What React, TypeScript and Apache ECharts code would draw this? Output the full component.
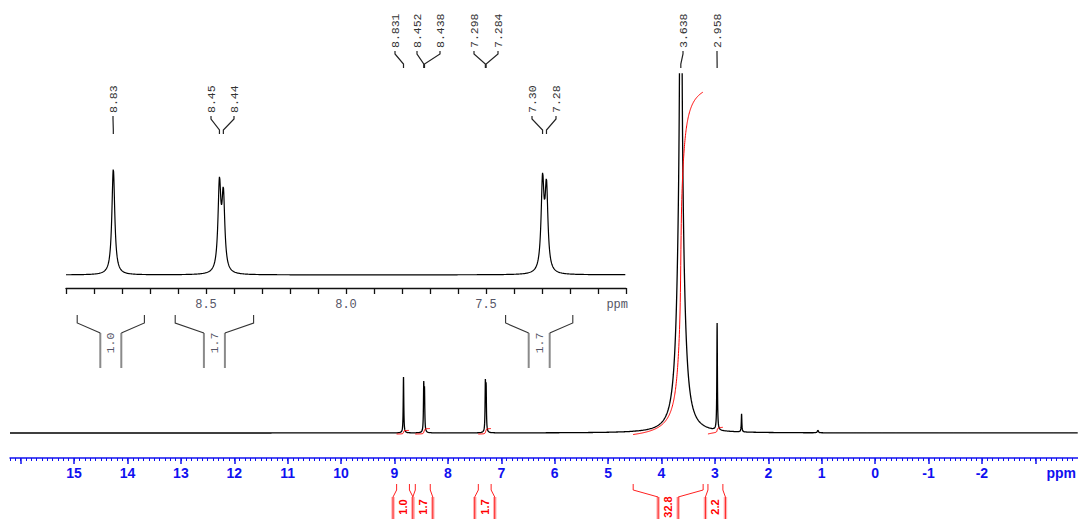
import React, { useEffect, useRef } from "react";
import * as echarts from "echarts";

// ---------- data ----------
// peaks: position (ppm), height (main-plot units above baseline), half width (ppm)
// 3.638 is drawn as a narrow core plus a broad foot
const peakPpm = [8.831, 8.452, 8.438, 7.298, 7.284, 3.638, 3.638, 2.958, 2.5, 1.07];
const peakHeight = [56, 45.4, 39.1, 46.8, 43.1, 900, 270, 107, 18, 3];
const peakHalfWidth = [0.0062, 0.0062, 0.0062, 0.0062, 0.0062, 0.01, 0.07, 0.006, 0.006, 0.01];

// peak picking labels
const mainPeakLabels = [8.831, 8.452, 8.438, 7.298, 7.284, 3.638, 2.958];
const insetPeakLabels = [8.831, 8.452, 8.438, 7.298, 7.284];

// integrals
const integralFrom = [8.96, 8.61, 7.43, 4.53, 3.13];
const integralTo = [8.72, 8.33, 7.19, 3.22, 2.85];
const integralValue = [1.0, 1.7, 1.7, 32.8, 2.2];
const insetIntegralFrom = [8.96, 8.61, 7.43];
const insetIntegralTo = [8.72, 8.33, 7.19];
const insetIntegralValue = [1.0, 1.7, 1.7];

// tick labels
const mainTickLabels = [15, 14, 13, 12, 11, 10, 9, 8, 7, 6, 5, 4, 3, 2, 1, 0, -1, -2];
const mainMajorTicks = [16, 15, 14, 13, 12, 11, 10, 9, 8, 7, 6, 5, 4, 3, 2, 1, 0, -1, -2, -3];
const insetTickLabels = [8.5, 8.0, 7.5];

// ---------- layout ----------
const MAIN_MIN = -3.8;
const MAIN_MAX = 16.2;
const INSET_MIN = 7.0;
const INSET_MAX = 9.0;
const mainLabelPx = [395, 417, 440, 474, 498, 683, 717];
const insetLabelPx = [113, 211, 234, 532, 556];
const BLUE = "#1010f0";

function intensity(x: number): number {
  let s = 0;
  for (let i = 0; i < peakPpm.length; i++) {
    const g = peakHalfWidth[i];
    const d = x - peakPpm[i];
    s += (peakHeight[i] * g * g) / (g * g + d * d);
  }
  return s;
}

function sampleSpectrum(from: number, to: number, step: number): number[][] {
  const xs: number[] = [];
  const n = Math.round((from - to) / step);
  for (let i = 0; i <= n; i++) xs.push(from - i * step);
  for (let i = 0; i < peakPpm.length; i++) {
    const g = Math.min(peakHalfWidth[i], 0.01);
    for (let k = -60; k <= 60; k++) {
      const x = peakPpm[i] + k * g * 0.25;
      if (x <= from && x >= to) xs.push(x);
    }
  }
  xs.sort((a, b) => b - a);
  const out: number[][] = [];
  let last = Infinity;
  for (const x of xs) {
    if (Math.abs(x - last) < 1e-7) continue;
    last = x;
    out.push([x, intensity(x)]);
  }
  return out;
}

function integralCurve(from: number, to: number, start: number, rise: number): number[][] {
  const n = 400;
  const step = (from - to) / n;
  const pts: number[][] = [];
  let cum = 0;
  const cums = [0];
  let prev = intensity(from);
  for (let i = 1; i <= n; i++) {
    const y = intensity(from - i * step);
    cum += ((prev + y) / 2) * step;
    cums.push(cum);
    prev = y;
  }
  for (let i = 0; i <= n; i++) {
    pts.push([from - i * step, start + (rise * cums[i]) / cum]);
  }
  return pts;
}

export default function App() {
  const ref = useRef<HTMLDivElement>(null);

  useEffect(() => {
    if (!ref.current) return;
    const chart = echarts.init(ref.current, null, { renderer: "svg" });

    const mainData = sampleSpectrum(MAIN_MAX, MAIN_MIN, 0.005);
    const insetData = sampleSpectrum(INSET_MAX, INSET_MIN, 0.0005);

    const minorTicks: number[] = [];
    for (let i = -38; i <= 162; i++) minorTicks.push(i / 10);
    const insetTicks: number[] = [];
    for (let i = 0; i <= 20; i++) insetTicks.push(Math.round((7 + i / 10) * 10) / 10);

    const integralSeries = integralFrom.map((f, i) => {
      const big = integralValue[i] > 10;
      return {
        type: "line",
        xAxisIndex: 0,
        yAxisIndex: 0,
        data: integralCurve(f, integralTo[i], big ? -1.5 : -1, big ? 342.5 : 2.6 * integralValue[i] + 1),
        symbol: "none",
        lineStyle: { color: "#ff0000", width: 1 },
        silent: true,
        z: 3,
      };
    });

    const option: any = {
      animation: false,
      backgroundColor: "#ffffff",
      grid: [
        { left: 10, right: 0, top: 74, height: 384, containLabel: false, outerBoundsMode: "none" },
        { left: 66, top: 145, width: 560, height: 134, containLabel: false, outerBoundsMode: "none" },
      ],
      xAxis: [
        {
          type: "value",
          gridIndex: 0,
          min: MAIN_MIN,
          max: MAIN_MAX,
          inverse: true,
          position: "bottom",
          axisLine: { show: true, onZero: false, lineStyle: { color: BLUE, width: 1.5 } },
          axisTick: {
            show: true,
            customValues: mainMajorTicks,
            length: 6,
            inside: false,
            lineStyle: { color: BLUE, width: 1.5 },
          },
          axisLabel: {
            show: true,
            customValues: mainTickLabels,
            formatter: (v: number) => String(Math.round(v)),
            color: BLUE,
            fontWeight: "bold",
            fontSize: 14,
            fontFamily: "Liberation Sans, Arial, sans-serif",
            margin: 8,
          },
          splitLine: { show: false },
        },
        {
          type: "value",
          gridIndex: 0,
          min: MAIN_MIN,
          max: MAIN_MAX,
          inverse: true,
          position: "bottom",
          axisLine: { show: false, onZero: false },
          axisTick: {
            show: true,
            customValues: minorTicks,
            length: 3,
            inside: false,
            lineStyle: { color: BLUE, width: 1 },
          },
          axisLabel: { show: false },
          splitLine: { show: false },
        },
        {
          type: "value",
          gridIndex: 1,
          min: INSET_MIN,
          max: INSET_MAX,
          inverse: true,
          position: "bottom",
          offset: 9,
          axisLine: { show: true, onZero: false, lineStyle: { color: "#111", width: 1.3 } },
          axisTick: {
            show: true,
            customValues: insetTicks,
            length: 6,
            inside: false,
            lineStyle: { color: "#111", width: 1.3 },
          },
          axisLabel: {
            show: true,
            customValues: insetTickLabels,
            formatter: (v: number) => v.toFixed(1),
            color: "#556",
            fontSize: 12,
            fontFamily: "Liberation Mono, Courier New, monospace",
            margin: 11,
          },
          splitLine: { show: false },
        },
      ],
      yAxis: [
        { type: "value", gridIndex: 0, min: -25, max: 359, show: false, splitLine: { show: false } },
        { type: "value", gridIndex: 1, min: -2.1, max: 68.7, show: false, splitLine: { show: false } },
      ],
      graphic: [
        {
          type: "text",
          x: 1076,
          y: 473,
          style: {
            text: "ppm",
            fill: BLUE,
            font: "bold 14px Liberation Sans, Arial, sans-serif",
            align: "right",
            verticalAlign: "middle",
          },
        },
        {
          type: "text",
          x: 628,
          y: 305,
          style: {
            text: "ppm",
            fill: "#556",
            font: "12px Liberation Mono, Courier New, monospace",
            align: "right",
            verticalAlign: "middle",
          },
        },
      ],
      series: [
        {
          type: "line",
          xAxisIndex: 0,
          yAxisIndex: 0,
          data: mainData,
          symbol: "none",
          lineStyle: { color: "#000", width: 1.3 },
          silent: true,
          z: 2,
        },
        ...integralSeries,
        {
          type: "line",
          xAxisIndex: 2,
          yAxisIndex: 1,
          data: insetData,
          symbol: "none",
          lineStyle: { color: "#000", width: 1.2 },
          silent: true,
          z: 2,
        },
        {
          type: "custom",
          xAxisIndex: 0,
          yAxisIndex: 0,
          clip: false,
          silent: true,
          data: mainPeakLabels.map((v) => [v, 0]),
          renderItem: (params: any, api: any) => {
            const v = api.value(0);
            const px = api.coord([v, 0])[0];
            const lx = mainLabelPx[params.dataIndex];
            return {
              type: "group",
              children: [
                {
                  type: "polyline",
                  shape: { points: [[lx, 51], [lx, 54], [px, 64], [px, 68]] },
                  style: { stroke: "#222", fill: "none", lineWidth: 1.2 },
                },
                {
                  type: "text",
                  x: lx,
                  y: 48,
                  rotation: Math.PI / 2,
                  style: {
                    text: v.toFixed(3),
                    fill: "#333",
                    font: "11.5px Liberation Mono, Courier New, monospace",
                    align: "left",
                    verticalAlign: "middle",
                  },
                },
              ],
            };
          },
        },
        {
          type: "custom",
          xAxisIndex: 2,
          yAxisIndex: 1,
          clip: false,
          silent: true,
          data: insetPeakLabels.map((v) => [v, 0]),
          renderItem: (params: any, api: any) => {
            const v = api.value(0);
            const px = api.coord([v, 0])[0];
            const lx = insetLabelPx[params.dataIndex];
            return {
              type: "group",
              children: [
                {
                  type: "polyline",
                  shape: { points: [[lx, 116], [lx, 119], [px, 130], [px, 134]] },
                  style: { stroke: "#222", fill: "none", lineWidth: 1.2 },
                },
                {
                  type: "text",
                  x: lx,
                  y: 113,
                  rotation: Math.PI / 2,
                  style: {
                    text: v.toFixed(2),
                    fill: "#333",
                    font: "11.5px Liberation Mono, Courier New, monospace",
                    align: "left",
                    verticalAlign: "middle",
                  },
                },
              ],
            };
          },
        },
        {
          type: "custom",
          xAxisIndex: 0,
          yAxisIndex: 0,
          clip: false,
          silent: true,
          data: integralFrom.map((f, i) => [f, integralTo[i], integralValue[i]]),
          renderItem: (params: any, api: any) => {
            const x1 = api.coord([api.value(0), 0])[0];
            const x2 = api.coord([api.value(1), 0])[0];
            const cx = (x1 + x2) / 2;
            const hw = 10;
            const edge = (x: number) => ({
              type: "polyline",
              shape: { points: [[x, 497], [x, 525]] },
              style: { stroke: "#ffb4b4", fill: "none", lineWidth: 3.5 },
            });
            const red = (pts: number[][]) => ({
              type: "polyline",
              shape: { points: pts },
              style: { stroke: "#ff2020", fill: "none", lineWidth: 1 },
            });
            return {
              type: "group",
              children: [
                edge(cx - hw),
                edge(cx + hw),
                red([[x1, 484], [x1, 490], [cx - hw, 497], [cx - hw, 525]]),
                red([[x2, 484], [x2, 490], [cx + hw, 497], [cx + hw, 525]]),
                {
                  type: "text",
                  x: cx,
                  y: 507,
                  rotation: Math.PI / 2,
                  style: {
                    text: api.value(2).toFixed(1),
                    fill: "#ff0000",
                    font: "bold 11px Liberation Sans, Arial, sans-serif",
                    align: "center",
                    verticalAlign: "middle",
                  },
                },
              ],
            };
          },
        },
        {
          type: "custom",
          xAxisIndex: 2,
          yAxisIndex: 1,
          clip: false,
          silent: true,
          data: insetIntegralFrom.map((f, i) => [f, insetIntegralTo[i], insetIntegralValue[i]]),
          renderItem: (params: any, api: any) => {
            const x1 = api.coord([api.value(0), 0])[0];
            const x2 = api.coord([api.value(1), 0])[0];
            const cx = (x1 + x2) / 2;
            const hw = 10.5;
            const edge = (x: number) => ({
              type: "polyline",
              shape: { points: [[x, 333], [x, 368]] },
              style: { stroke: "#8a8a8a", fill: "none", lineWidth: 2 },
            });
            const top = (pts: number[][]) => ({
              type: "polyline",
              shape: { points: pts },
              style: { stroke: "#333", fill: "none", lineWidth: 1.1 },
            });
            return {
              type: "group",
              children: [
                edge(cx - hw),
                edge(cx + hw),
                top([[x1, 315], [x1, 323], [cx - hw, 333]]),
                top([[x2, 315], [x2, 323], [cx + hw, 333]]),
                {
                  type: "text",
                  x: cx,
                  y: 343,
                  rotation: Math.PI / 2,
                  style: {
                    text: api.value(2).toFixed(1),
                    fill: "#556",
                    font: "11.5px Liberation Mono, Courier New, monospace",
                    align: "center",
                    verticalAlign: "middle",
                  },
                },
              ],
            };
          },
        },
      ],
    };

    chart.setOption(option);
    return () => chart.dispose();
  }, []);

  return (
    <div
      ref={ref}
      style={{ position: "absolute", left: 0, top: 0, width: 1078, height: 519, background: "#fff" }}
    />
  );
}
